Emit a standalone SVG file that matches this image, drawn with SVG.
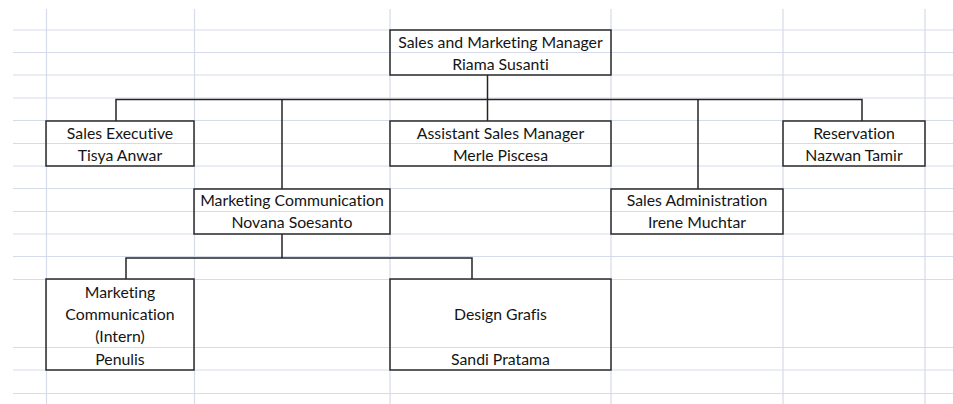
<svg xmlns="http://www.w3.org/2000/svg" width="953" height="404" viewBox="0 0 953 404">
  <style>
    .grid line { stroke: #d5dbe8; stroke-width: 1.2; }
    .box { fill: #ffffff; fill-opacity: 0; stroke: #2b2b2b; stroke-width: 1.5; }
    .lbl { font-family: Lato, "Liberation Sans", sans-serif; font-size: 15.8px; fill: #141414; text-anchor: middle; font-variant-ligatures: none; }
    .conn path { fill: none; stroke: #242424; stroke-width: 1.5; }
  </style>
  <rect width="953" height="404" fill="#ffffff"/>

  <!-- spreadsheet grid -->
  <g class="grid">
    <line x1="13" y1="30" x2="953" y2="30"/>
    <line x1="13" y1="52.5" x2="953" y2="52.5"/>
    <line x1="13" y1="75" x2="953" y2="75"/>
    <line x1="13" y1="98" x2="953" y2="98"/>
    <line x1="13" y1="120.5" x2="953" y2="120.5"/>
    <line x1="13" y1="143.5" x2="953" y2="143.5"/>
    <line x1="13" y1="166" x2="953" y2="166"/>
    <line x1="13" y1="188.5" x2="953" y2="188.5"/>
    <line x1="13" y1="211.5" x2="953" y2="211.5"/>
    <line x1="13" y1="234" x2="953" y2="234"/>
    <line x1="13" y1="256.5" x2="953" y2="256.5"/>
    <line x1="13" y1="279.5" x2="953" y2="279.5"/>
    <line x1="13" y1="347.5" x2="953" y2="347.5"/>
    <line x1="13" y1="370" x2="953" y2="370"/>
    <line x1="13" y1="393.5" x2="953" y2="393.5"/>
    <line x1="46.5" y1="9" x2="46.5" y2="404"/>
    <line x1="194.5" y1="9" x2="194.5" y2="404"/>
    <line x1="390" y1="9" x2="390" y2="404"/>
    <line x1="611" y1="9" x2="611" y2="404"/>
    <line x1="783" y1="9" x2="783" y2="404"/>
    <line x1="925" y1="9" x2="925" y2="404"/>
  </g>

  <!-- reporting lines -->
  <g id="connectors" class="conn">
    <path d="M487.5 75 V121"/>
    <path d="M116 121 V99.5 H862 V121"/>
    <path d="M282 99.5 V189"/>
    <path d="M698 99.5 V189"/>
    <path d="M282 234 V258 M126 279 V258 H472 V279"/>
  </g>

  <g id="sales-marketing-manager">
    <rect class="box" x="390" y="30" width="221" height="45"/>
    <text class="lbl" x="500.5" y="48">Sales and Marketing Manager</text>
    <text class="lbl" x="500.5" y="70">Riama Susanti</text>
  </g>

  <g id="sales-executive">
    <rect class="box" x="46" y="121" width="148" height="45"/>
    <text class="lbl" x="120" y="139">Sales Executive</text>
    <text class="lbl" x="120" y="161">Tisya Anwar</text>
  </g>

  <g id="assistant-sales-manager">
    <rect class="box" x="390" y="121" width="221" height="45"/>
    <text class="lbl" x="500.5" y="139">Assistant Sales Manager</text>
    <text class="lbl" x="500.5" y="161">Merle Piscesa</text>
  </g>

  <g id="reservation">
    <rect class="box" x="783" y="121" width="142" height="45"/>
    <text class="lbl" x="854" y="139">Reservation</text>
    <text class="lbl" x="854" y="161">Nazwan Tamir</text>
  </g>

  <g id="marketing-communication">
    <rect class="box" x="194" y="189" width="196" height="45"/>
    <text class="lbl" x="292" y="206">Marketing Communication</text>
    <text class="lbl" x="292" y="228">Novana Soesanto</text>
  </g>

  <g id="sales-administration">
    <rect class="box" x="611" y="189" width="172" height="45"/>
    <text class="lbl" x="697" y="206">Sales Administration</text>
    <text class="lbl" x="697" y="228">Irene Muchtar</text>
  </g>

  <g id="marketing-communication-intern">
    <rect class="box" x="46" y="279" width="148" height="91"/>
    <text class="lbl" x="120" y="298">Marketing</text>
    <text class="lbl" x="120" y="320">Communication</text>
    <text class="lbl" x="120" y="342">(Intern)</text>
    <text class="lbl" x="120" y="365">Penulis</text>
  </g>

  <g id="design-grafis">
    <rect class="box" x="390" y="279" width="221" height="91"/>
    <text class="lbl" x="500.5" y="320">Design Grafis</text>
    <text class="lbl" x="500.5" y="365">Sandi Pratama</text>
  </g>
</svg>
